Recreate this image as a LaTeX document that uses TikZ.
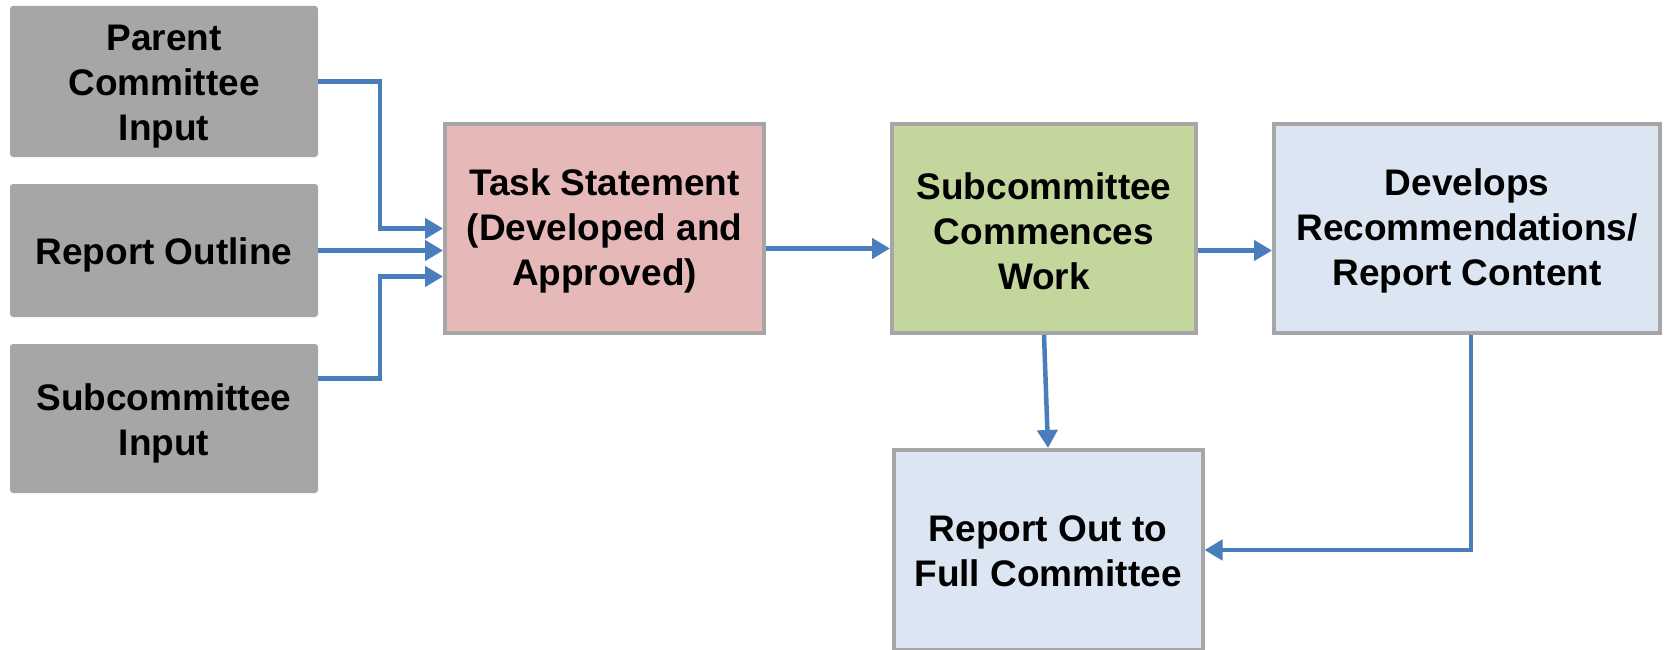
\documentclass[tikz,border=0pt]{standalone}
\usepackage{fontspec}
\setmainfont{Liberation Sans}
\usetikzlibrary{arrows.meta}
\definecolor{boxgray}{HTML}{A6A6A6}
\definecolor{taskred}{HTML}{E6B9B8}
\definecolor{subgreen}{HTML}{C3D69B}
\definecolor{paleblue}{HTML}{DCE6F2}
\definecolor{arrowblue}{HTML}{4A7EBB}
\tikzset{
  txt/.style={font=\fontsize{37}{45}\selectfont\bfseries, align=center, inner sep=0pt, text=black},
  inbox/.style={fill=boxgray, rounded corners=3pt, minimum width=308pt, inner sep=0pt},
  flowbox/.style={draw=boxgray, line width=4pt, inner sep=0pt},
  arr/.style={draw=arrowblue, line width=4.5pt, -{Triangle[length=18pt,width=20pt]}},
}
\begin{document}
\begin{tikzpicture}[x=1pt,y=-1pt]
\useasboundingbox (0,0) rectangle (1664,650);
\node[inbox, minimum height=151pt, label={[txt,yshift=-5pt]center:Parent\\Committee\\Input}] (pc) at (164,81.5) {};
\node[inbox, minimum height=133pt, label={[txt,yshift=-4.5pt]center:Report Outline}] (ro) at (164,250.5) {};
\node[inbox, minimum height=149pt, label={[txt,yshift=-4.5pt]center:Subcommittee\\Input}] (si) at (164,418.5) {};
\node[flowbox, fill=taskred, minimum width=319pt, minimum height=209pt, label={[txt,yshift=-2.5pt]center:Task Statement\\(Developed and\\Approved)}] (ts) at (604.5,228.5) {};
\node[flowbox, fill=subgreen, minimum width=304pt, minimum height=209pt, label={[txt,yshift=-2.5pt]center:Subcommittee\\Commences\\Work}] (sc) at (1044,228.5) {};
\node[flowbox, fill=paleblue, minimum width=386pt, minimum height=209pt, label={[txt,yshift=-2.5pt]center:Develops\\Recommendations/\\Report Content}] (dv) at (1467,228.5) {};
\node[flowbox, fill=paleblue, minimum width=309pt, minimum height=200pt, label={[txt,yshift=-1pt]center:Report Out to\\Full Committee}] (rp) at (1048,550) {};
\coordinate (j1) at (380,0);
\coordinate (t3) at ([yshift=-48pt]ts.west);
\coordinate (s3) at ([yshift=40pt]si.east);
\draw[arr] (pc.east) -| (j1 |- ts.west) -- (ts.west);
\draw[arr] (ro.east) -- (ro.east -| ts.west);
\draw[arr] (s3) -| (j1 |- t3) -- (t3);
\draw[arr] ([yshift=-20pt]ts.east) -- ([yshift=-20pt]sc.west);
\draw[arr] ([yshift=-22pt]sc.east) -- ([yshift=-22pt]dv.west);
\draw[arr] (sc.south) -- (rp.north);
\draw[arr] ([xshift=4pt]dv.south) |- (rp.east);
\end{tikzpicture}
\end{document}
